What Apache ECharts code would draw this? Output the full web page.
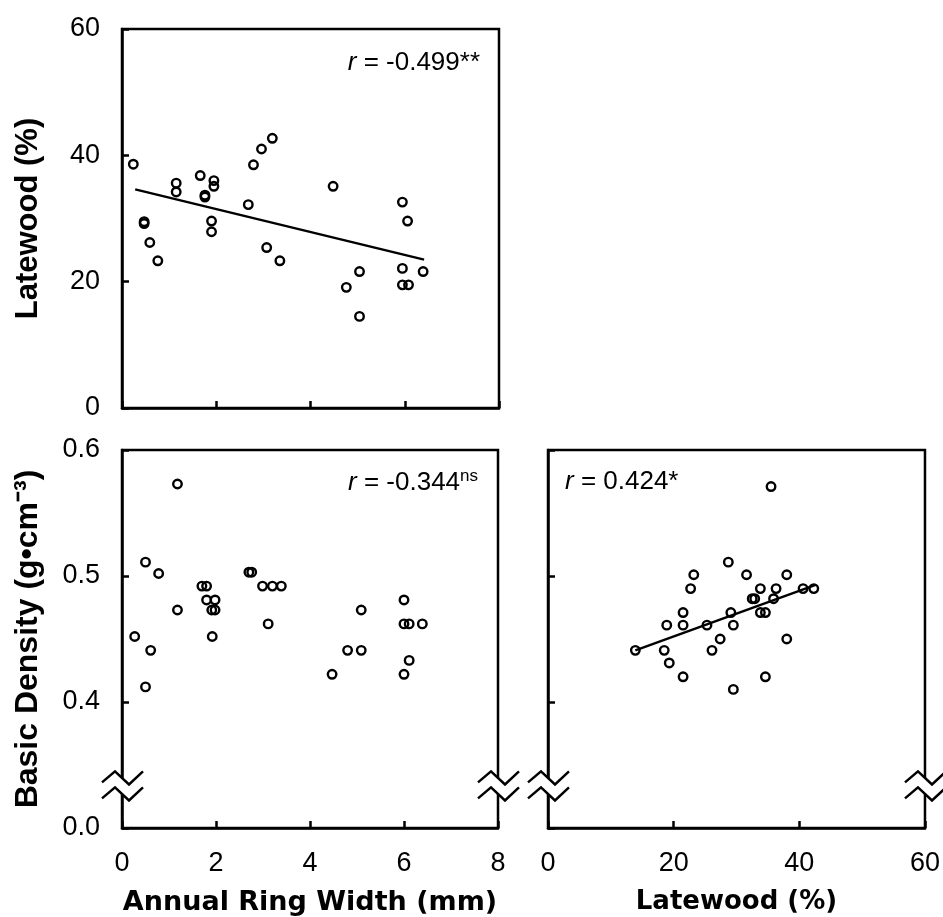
<!DOCTYPE html>
<html>
<head>
<meta charset="utf-8">
<script src="https://cdn.jsdelivr.net/npm/echarts@6/dist/echarts.min.js"></script>
<style>
html,body{margin:0;padding:0;background:#fff;}
#c{width:943px;height:917px;}
</style>
</head>
<body>
<div id="c"></div>
<script>
// ---- Panel A: Annual ring width (mm) vs Latewood (%) ----
const ringWidthA = [0.24,0.47,0.47,0.59,0.76,1.15,1.15,1.66,1.76,1.76,1.95,1.95,1.90,1.90,2.68,2.79,2.96,3.19,3.07,3.35,4.48,4.76,5.04,5.04,5.95,6.06,5.95,5.95,6.08,6.39];
const latewoodA  = [38.6,29.5,29.2,26.2,23.3,35.6,34.2,36.8,33.7,33.4,36.0,35.1,29.6,27.9,32.2,38.5,41.0,42.7,25.4,23.3,35.1,19.1,21.6,14.5,32.6,29.6,22.1,19.5,19.5,21.6];
const trendAx = [0.28, 6.41];
const trendAy = [34.6, 23.5];
const labelA = 'r = -0.499**';

// ---- Panel B: Annual ring width (mm) vs Basic density ----
const ringWidthB = [1.18,0.50,0.78,0.27,0.61,0.50,1.18,1.70,1.80,1.80,1.98,1.91,1.98,1.92,2.70,2.76,2.99,3.20,3.39,3.11,4.47,4.80,5.09,5.09,6.00,6.00,6.11,6.39,6.11,6.00];
const densityB   = [0.573,0.511,0.502,0.452,0.441,0.412,0.473,0.492,0.492,0.481,0.481,0.473,0.473,0.452,0.503,0.503,0.492,0.492,0.492,0.462,0.422,0.441,0.441,0.473,0.481,0.462,0.462,0.462,0.433,0.422];
const labelB = 'r = -0.344ns';

// ---- Panel C: Latewood (%) vs Basic density ----
const latewoodC = [35.5,28.7,23.2,31.6,38.0,22.7,33.8,36.3,40.6,42.3,32.5,32.9,35.9,21.5,29.1,33.8,34.6,18.9,21.5,25.3,29.5,27.4,38.0,13.9,18.5,26.1,19.3,21.5,34.6,29.5];
const densityC  = [0.571,0.511,0.501,0.501,0.501,0.490,0.490,0.490,0.490,0.490,0.482,0.482,0.482,0.471,0.471,0.471,0.471,0.461,0.461,0.461,0.461,0.450,0.450,0.441,0.441,0.441,0.431,0.420,0.420,0.410];
const trendCx = [13.9, 42.6];
const trendCy = [0.441, 0.493];
const labelC = 'r = 0.424*';

// ---- Axis ticks / labels ----
const ringWidthTicks = [0, 2, 4, 6, 8];
const latewoodTicks = [0, 20, 40, 60];
const densityTicks = [0.3, 0.4, 0.5, 0.6];
const densityTickLabels = ['0.0', '0.4', '0.5', '0.6'];
const densityBreakAt = 0.333;

const zip = (a, b) => a.map((v, i) => [v, b[i]]);

const BLACK = '#000';
const tickFont = 'Liberation Sans, Arial, sans-serif';
const titleFontH = 'DejaVu Sans, sans-serif';
const titleFontV = 'Liberation Sans, Arial, sans-serif';
const LW = 2.5;

function axisBase(extra) {
  return Object.assign({
    type: 'value',
    axisLine: { show: true, onZero: false, lineStyle: { color: BLACK, width: LW } },
    axisTick: { show: true, inside: true, length: 7, lineStyle: { color: BLACK, width: LW } },
    splitLine: { show: false },
    axisLabel: { show: true, color: BLACK, fontFamily: tickFont, fontSize: 27, margin: 22 },
    nameLocation: 'middle'
  }, extra);
}
const hideLabels = { show: false };

const densityFmt = v => {
  let best = 0;
  densityTicks.forEach((t, i) => { if (Math.abs(t - v) < Math.abs(densityTicks[best] - v)) best = i; });
  return densityTickLabels[best];
};

const scatterStyle = {
  type: 'scatter',
  symbol: 'circle',
  symbolSize: 8.5,
  itemStyle: { color: 'rgba(0,0,0,0)', borderColor: BLACK, borderWidth: 2.4, opacity: 1 },
  emphasis: { disabled: true },
  z: 3
};
const lineStyle = {
  type: 'line',
  symbol: 'none',
  lineStyle: { color: BLACK, width: 2.4 },
  emphasis: { disabled: true },
  z: 2
};

const gridBase = { show: true, borderColor: BLACK, borderWidth: LW, backgroundColor: 'transparent', containLabel: false };

const option = {
  animation: false,
  backgroundColor: '#fff',
  grid: [
    Object.assign({ left: 122, top: 29, width: 377, height: 379 }, gridBase),
    Object.assign({ left: 122, top: 450, width: 376, height: 378 }, gridBase),
    Object.assign({ left: 548, top: 450, width: 377, height: 378 }, gridBase)
  ],
  xAxis: [
    axisBase({ gridIndex: 0, min: ringWidthTicks[0], max: ringWidthTicks[ringWidthTicks.length - 1], interval: 2, axisLabel: hideLabels }),
    axisBase({ gridIndex: 1, min: ringWidthTicks[0], max: ringWidthTicks[ringWidthTicks.length - 1], interval: 2,
      name: 'Annual Ring Width (mm)', nameGap: 61,
      nameTextStyle: { fontFamily: titleFontH, fontWeight: 'bold', fontSize: 27, color: BLACK } }),
    axisBase({ gridIndex: 2, min: latewoodTicks[0], max: latewoodTicks[latewoodTicks.length - 1], interval: 20,
      name: 'Latewood (%)', nameGap: 61,
      nameTextStyle: { fontFamily: titleFontH, fontWeight: 'bold', fontSize: 26, color: BLACK } })
  ],
  yAxis: [
    axisBase({ gridIndex: 0, min: latewoodTicks[0], max: latewoodTicks[latewoodTicks.length - 1], interval: 20,
      name: 'Latewood (%)', nameGap: 78,
      nameTextStyle: { fontFamily: titleFontV, fontWeight: 'bold', fontSize: 31, color: BLACK } }),
    axisBase({ gridIndex: 1, min: densityTicks[0], max: densityTicks[densityTicks.length - 1], interval: 0.1,
      axisLabel: { show: true, color: BLACK, fontFamily: tickFont, fontSize: 27, margin: 22, formatter: densityFmt },
      name: 'Basic Density (g•cm⁻³)', nameGap: 78,
      nameTextStyle: { fontFamily: titleFontV, fontWeight: 'bold', fontSize: 32, color: BLACK } }),
    axisBase({ gridIndex: 2, min: densityTicks[0], max: densityTicks[densityTicks.length - 1], interval: 0.1, axisLabel: hideLabels })
  ],
  series: [
    Object.assign({ xAxisIndex: 0, yAxisIndex: 0, data: zip(ringWidthA, latewoodA) }, scatterStyle),
    Object.assign({ xAxisIndex: 0, yAxisIndex: 0, data: zip(trendAx, trendAy) }, lineStyle),
    Object.assign({ xAxisIndex: 1, yAxisIndex: 1, data: zip(ringWidthB, densityB) }, scatterStyle),
    Object.assign({ xAxisIndex: 2, yAxisIndex: 2, data: zip(latewoodC, densityC) }, scatterStyle),
    Object.assign({ xAxisIndex: 2, yAxisIndex: 2, data: zip(trendCx, trendCy) }, lineStyle)
  ]
};

const chart = echarts.init(document.getElementById('c'), null, { renderer: 'canvas' });
chart.setOption(option);

// ---- decorations: correlation labels and axis-break marks ----
function rLabel(text, x, y, align) {
  const m = text.match(/^r(.*?)(ns)?$/);
  const body = m[1];
  const sup = m[2] ? '{s|' + m[2] + '}' : '';
  return {
    type: 'text', x: x, y: y, z: 100,
    style: {
      text: '{i|r}{n|' + body + '}' + sup,
      align: align, verticalAlign: 'middle',
      rich: {
        i: { fontFamily: tickFont, fontSize: 26, fontStyle: 'italic', fill: BLACK, lineHeight: 30 },
        n: { fontFamily: tickFont, fontSize: 26, fill: BLACK, lineHeight: 30 },
        s: { fontFamily: tickFont, fontSize: 17, fill: BLACK, verticalAlign: 'top', lineHeight: 17 }
      }
    }
  };
}

function breakMark(ax, yc) {
  const up = [[ax - 20, yc - 4], [ax - 7, yc - 15], [ax + 7, yc - 2], [ax + 21, yc - 15]];
  const lo = up.map(p => [p[0], p[1] + 16]);
  return [
    { type: 'polygon', z: 90, shape: { points: up.concat(lo.slice().reverse()) }, style: { fill: '#fff', stroke: null } },
    { type: 'polyline', z: 91, shape: { points: up }, style: { stroke: BLACK, lineWidth: LW, fill: null } },
    { type: 'polyline', z: 91, shape: { points: lo }, style: { stroke: BLACK, lineWidth: LW, fill: null } }
  ];
}

const gA = chart.convertToPixel({ gridIndex: 0 }, [ringWidthTicks[ringWidthTicks.length - 1], latewoodTicks[latewoodTicks.length - 1]]);
const gBlo = chart.convertToPixel({ gridIndex: 1 }, [ringWidthTicks[0], densityBreakAt]);
const gBhi = chart.convertToPixel({ gridIndex: 1 }, [ringWidthTicks[ringWidthTicks.length - 1], densityTicks[densityTicks.length - 1]]);
const gClo = chart.convertToPixel({ gridIndex: 2 }, [latewoodTicks[0], densityBreakAt]);
const gChi = chart.convertToPixel({ gridIndex: 2 }, [latewoodTicks[latewoodTicks.length - 1], densityTicks[densityTicks.length - 1]]);

const graphics = []
  .concat(breakMark(gBlo[0], gBlo[1]))
  .concat(breakMark(gBhi[0], gBlo[1]))
  .concat(breakMark(gClo[0], gClo[1]))
  .concat(breakMark(gChi[0], gClo[1]));
graphics.push(rLabel(labelA, gA[0] - 19, gA[1] + 34, 'right'));
graphics.push(rLabel(labelB, gBhi[0] - 20, gBhi[1] + 33, 'right'));
graphics.push(rLabel(labelC, gClo[0] + 17, gChi[1] + 32, 'left'));

chart.setOption({ graphic: graphics });
</script>
</body>
</html>
